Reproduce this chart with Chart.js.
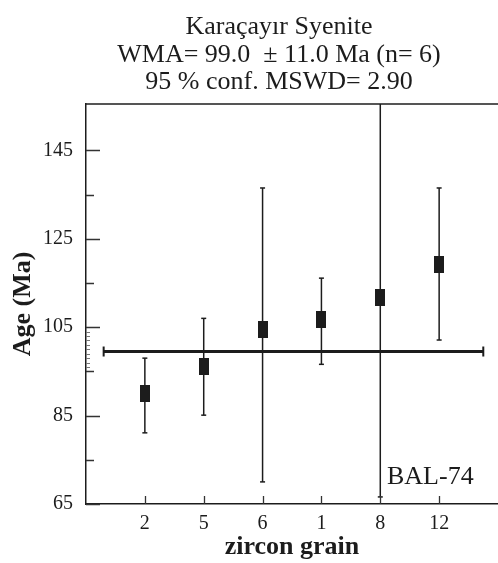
<!DOCTYPE html>
<html>
<head>
<meta charset="utf-8">
<script src="https://cdn.jsdelivr.net/npm/chart.js@4/dist/chart.umd.min.js"></script>
<style>
  body { margin: 0; background: #fff; }
  #wrap { width: 498px; height: 563px; }
</style>
</head>
<body>
<div id="wrap"><canvas id="ageChart"></canvas></div>
<script>
// zircon grains and their ages (Ma)
const grains = ['2', '5', '6', '1', '8', '12'];
const ages = [90.1, 96.0, 104.5, 106.7, 111.7, 119.2];
const errLow = [81.1, 85.1, 70.0, 96.6, 66.6, 102.1];
const errHigh = [98.0, 107.0, 136.5, 116.1, 160.0, 136.5]; // grain 8 runs off the top

// weighted mean age line
const wmaAge = 99.5;
const wmaFrom = 0.3;
const wmaTo = 6.75;

// axis ticks
const yMajor = [65, 85, 105, 125, 145];
const yMinor = [75, 95, 115, 135];
const ySmall = [96, 97, 98, 99, 100, 101, 102, 103, 104];

const titleLines = ['Karaçayır Syenite', 'WMA= 99.0  ± 11.0 Ma (n= 6)', '95 % conf. MSWD= 2.90'];
const sampleName = 'BAL-74';

const ink = '#1c1c1c';
Chart.defaults.font.family = "'Liberation Serif', 'Times New Roman', serif";
Chart.defaults.color = ink;

// black rectangle marker for the ages
const box = document.createElement('canvas');
box.width = 10;
box.height = 17;
const bctx = box.getContext('2d');
bctx.fillStyle = ink;
bctx.fillRect(0, 0, 10, 17);

const xPos = grains.map((g, i) => i + 1);

const datasets = [];
datasets.push({
    label: 'age',
    type: 'scatter',
    data: ages.map((a, i) => ({ x: xPos[i], y: a })),
    pointStyle: box,
    pointRadius: 5
});
datasets.push({
    label: 'wma',
    type: 'line',
    data: [{ x: wmaFrom, y: wmaAge }, { x: wmaTo, y: wmaAge }],
    borderColor: ink,
    borderWidth: 3,
    pointStyle: 'line',
    rotation: 90,
    pointRadius: 5,
    pointBorderWidth: 2,
    pointBorderColor: ink
});
grains.forEach((g, i) => {
    datasets.push({
        label: 'err ' + g,
        type: 'line',
        data: [{ x: xPos[i], y: errLow[i] }, { x: xPos[i], y: errHigh[i] }],
        borderColor: ink,
        borderWidth: 1.5,
        pointStyle: 'line',
        pointRadius: 2.5,
        pointBorderWidth: 1.5,
        pointBorderColor: ink
    });
});

// frame top, inward tick marks, title and sample name
const decorations = {
    id: 'decorations',
    afterDraw(chart) {
        const { ctx, chartArea, scales } = chart;
        const x = scales.x, y = scales.y;
        ctx.save();
        ctx.strokeStyle = ink;
        ctx.lineWidth = 1.5;
        ctx.beginPath();
        ctx.moveTo(chartArea.left, chartArea.top);
        ctx.lineTo(chartArea.right, chartArea.top);
        ctx.stroke();

        ctx.lineWidth = 1.3;
        ctx.strokeStyle = '#333';
        ctx.beginPath();
        yMajor.forEach(v => {
            const py = Math.round(y.getPixelForValue(v)) + 0.5;
            ctx.moveTo(chartArea.left, py);
            ctx.lineTo(chartArea.left + 14, py);
        });
        yMinor.forEach(v => {
            const py = Math.round(y.getPixelForValue(v)) + 0.5;
            ctx.moveTo(chartArea.left, py);
            ctx.lineTo(chartArea.left + 8, py);
        });
        xPos.forEach(v => {
            const px = Math.round(x.getPixelForValue(v)) + 0.5;
            ctx.moveTo(px, chartArea.bottom);
            ctx.lineTo(px, chartArea.bottom - 8);
        });
        ctx.stroke();

        ctx.strokeStyle = '#777';
        ctx.lineWidth = 1;
        ctx.beginPath();
        ySmall.forEach(v => {
            const py = Math.round(y.getPixelForValue(v)) + 0.5;
            ctx.moveTo(chartArea.left, py);
            ctx.lineTo(chartArea.left + 4, py);
        });
        ctx.stroke();

        ctx.fillStyle = ink;
        ctx.font = "26px 'Liberation Serif'";
        ctx.textAlign = 'center';
        ctx.textBaseline = 'alphabetic';
        titleLines.forEach((t, i) => {
            ctx.fillText(t, 279, 34 + i * 27.5);
        });

        ctx.textAlign = 'left';
        ctx.fillText(sampleName, chartArea.right - 111, chartArea.bottom - 20);
        ctx.restore();
    }
};

new Chart(document.getElementById('ageChart'), {
    type: 'scatter',
    data: { datasets: datasets },
    options: {
        responsive: true,
        maintainAspectRatio: false,
        animation: false,
        layout: { autoPadding: false, padding: { top: 104, left: 0, right: 0, bottom: 0 } },
        plugins: {
            legend: { display: false },
            tooltip: { enabled: false }
        },
        scales: {
            x: {
                type: 'linear',
                min: 0,
                max: 7,
                afterBuildTicks: scale => { scale.ticks = xPos.map(v => ({ value: v })); },
                afterFit: scale => {
                    scale.height = 59;
                    scale.paddingLeft = 0;
                    scale.paddingRight = 0;
                },
                ticks: {
                    callback: v => grains[v - 1],
                    font: { size: 20 },
                    padding: 8,
                    maxRotation: 0
                },
                grid: { display: false, drawTicks: false },
                border: { display: true, color: ink, width: 1.5 },
                title: {
                    display: true,
                    text: 'zircon grain',
                    font: { size: 26, weight: 'bold' },
                    padding: { top: 0, bottom: 0 }
                }
            },
            y: {
                type: 'linear',
                min: 65,
                max: 155.5,
                afterBuildTicks: scale => { scale.ticks = yMajor.map(v => ({ value: v })); },
                afterFit: scale => {
                    scale.width = 86;
                    scale.paddingTop = 0;
                    scale.paddingBottom = 0;
                },
                ticks: {
                    font: { size: 20 },
                    padding: 13
                },
                grid: { display: false, drawTicks: false },
                border: { display: true, color: ink, width: 1.5 },
                title: {
                    display: true,
                    text: 'Age (Ma)',
                    font: { size: 26, weight: 'bold' },
                    padding: { top: 8, bottom: 0 }
                }
            }
        }
    },
    plugins: [decorations]
});
</script>
</body>
</html>
